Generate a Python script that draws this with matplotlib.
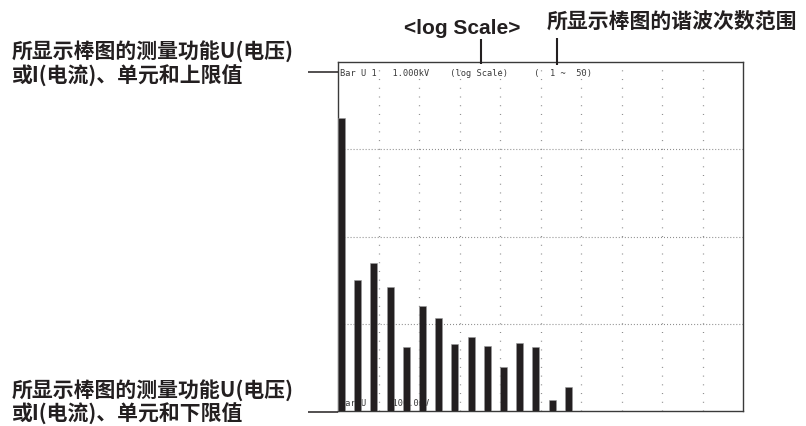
import matplotlib
matplotlib.use("Agg")
import matplotlib.pyplot as plt
from matplotlib.lines import Line2D

plt.rcParams['lines.scale_dashes'] = False

# Harmonic orders shown and their voltage levels (V)
orders = [1, 3, 5, 7, 9, 11, 13, 15, 17, 19, 21, 23, 25, 27, 29]
voltages = [230, 3.16, 5.0, 2.63, 0.54, 1.6, 1.16, 0.59, 0.71, 0.56, 0.32, 0.60, 0.54, 0.135, 0.19]

# Display range
order_min, order_max = 1, 51
v_min, v_max = 0.1, 1000.0
decade_lines = [1.0, 10.0, 100.0]
order_lines = [6, 11, 16, 21, 26, 31, 36, 41, 46]

# Screen texts
top_status = "Bar U 1   1.000kV    (log Scale)     (  1 ~  50)"
bottom_status = "Bar U 1   100.0mV"

# Callout texts
upper_note = ["所显示棒图的测量功能U(电压)", "或I(电流)、单元和上限值"]
lower_note = ["所显示棒图的测量功能U(电压)", "或I(电流)、单元和下限值"]
scale_note = "<log Scale>"
range_note = "所显示棒图的谐波次数范围"

W, H = 806, 427
fig = plt.figure(figsize=(W / 100, H / 100), dpi=100)
fig.patch.set_facecolor("white")


def fx(px):
    return px / W


def fy(py):
    return 1 - py / H


ax = fig.add_axes([fx(338), fy(412), fx(743) - fx(338), fy(63.3) - fy(412)])
ax.set_xlim(order_min, order_max)
ax.set_yscale("log")
ax.set_ylim(v_min, v_max)
ax.set_xticks([])
ax.set_yticks([])
ax.minorticks_off()
ax.tick_params(which="both", length=0)
for s in ax.spines.values():
    s.set_color("#3a3a3a")
    s.set_linewidth(1.0)

grid_col = "#8c8c8c"
for v in decade_lines:
    ax.axhline(v, color=grid_col, lw=0.8, ls=(0, (0.72, 1.45)), zorder=1)
for o in order_lines:
    ax.axvline(o, color=grid_col, lw=0.9, ls=(0, (0.72, 5.56)), zorder=1)

bar_col = "#231f20"
ax.bar(orders, [v - v_min for v in voltages], bottom=v_min, width=0.86,
       align="edge", color=bar_col, edgecolor="#9a9a9a", linewidth=0.4, zorder=3)

mono = dict(family="DejaVu Sans Mono", fontsize=6.2, color="#3a3a3a")
ax.text(0.005, 0.985, top_status, transform=ax.transAxes, ha="left", va="top",
        zorder=2, **mono)
ax.text(0.005, 0.012, bottom_status, transform=ax.transAxes, ha="left",
        va="bottom", zorder=2, **mono)

cjk = dict(family=["Noto Sans CJK SC", "DejaVu Sans"], fontsize=15,
           fontweight="heavy", color="#231f20")

fig.text(fx(12), fy(51), upper_note[0], ha="left", va="center", **cjk)
fig.text(fx(12), fy(76), upper_note[1], ha="left", va="center", **cjk)
fig.text(fx(12), fy(390), lower_note[0], ha="left", va="center", **cjk)
fig.text(fx(12), fy(414), lower_note[1], ha="left", va="center", **cjk)
fig.text(fx(547), fy(21), range_note, ha="left", va="center", **cjk)
fig.text(fx(462.5), fy(28), scale_note, ha="center", va="center",
         family="Liberation Sans", fontsize=15, fontweight="bold",
         color="#231f20")

lead = dict(color="#231f20", transform=fig.transFigure, solid_capstyle="butt")
fig.add_artist(Line2D([fx(308), fx(338)], [fy(72.7), fy(72.7)], lw=1.1, **lead))
fig.add_artist(Line2D([fx(308), fx(338)], [fy(412.7), fy(412.7)], lw=1.1, **lead))
fig.add_artist(Line2D([fx(480.5), fx(480.5)], [fy(40), fy(65)], lw=1.5, **lead))
fig.add_artist(Line2D([fx(557), fx(557)], [fy(39), fy(66)], lw=1.5, **lead))

fig.savefig("out.png", dpi=100, facecolor="white")
